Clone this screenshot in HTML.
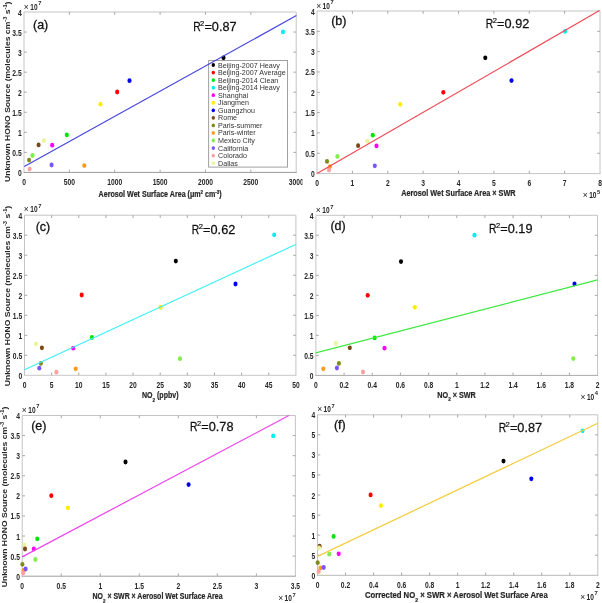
<!DOCTYPE html><html><head><meta charset="utf-8"><style>html,body{margin:0;padding:0;background:#fff;width:602px;height:603px;overflow:hidden}svg{display:block;filter:blur(0.35px)}text{font-family:"Liberation Sans", sans-serif}</style></head><body>
<svg width="602" height="603" viewBox="0 0 602 603">
<rect width="602" height="603" fill="#fff"/>
<defs><clipPath id="clipA"><rect x="0" y="0" width="302.5" height="603"/></clipPath><clipPath id="clipF"><rect x="311" y="0" width="291" height="603"/></clipPath></defs>
<path fill="none" stroke="#c4c4c4" stroke-width="1" d="M24 172.4V12H296.2V172.4"/>
<path fill="none" stroke="#9a9a9a" stroke-width="1" d="M23.5 172.4H296.7"/>
<g fill="none" stroke="#a8a8a8" stroke-width="1">
<path d="M69.37 172.4v-2.8M69.37 12v2.8M114.73 172.4v-2.8M114.73 12v2.8M160.1 172.4v-2.8M160.1 12v2.8M205.47 172.4v-2.8M205.47 12v2.8M250.83 172.4v-2.8M250.83 12v2.8M24 152.35h2.8M296.2 152.35h-2.8M24 132.3h2.8M296.2 132.3h-2.8M24 112.25h2.8M296.2 112.25h-2.8M24 92.2h2.8M296.2 92.2h-2.8M24 72.15h2.8M296.2 72.15h-2.8M24 52.1h2.8M296.2 52.1h-2.8M24 32.05h2.8M296.2 32.05h-2.8"/>
</g>
<g font-size="8.2" font-weight="bold" fill="#262626" text-anchor="middle" clip-path="url(#clipA)">
<text transform="translate(24 184.8) scale(0.82 1)">0</text>
<text transform="translate(69.37 184.8) scale(0.82 1)">500</text>
<text transform="translate(114.73 184.8) scale(0.82 1)">1000</text>
<text transform="translate(160.1 184.8) scale(0.82 1)">1500</text>
<text transform="translate(205.47 184.8) scale(0.82 1)">2000</text>
<text transform="translate(250.83 184.8) scale(0.82 1)">2500</text>
<text transform="translate(296.2 184.8) scale(0.82 1)">3000</text>
</g>
<g font-size="8.2" font-weight="bold" fill="#262626" text-anchor="end">
<text transform="translate(21.7 175.9) scale(0.82 1)">0</text>
<text transform="translate(21.7 155.85) scale(0.82 1)">0.5</text>
<text transform="translate(21.7 135.8) scale(0.82 1)">1</text>
<text transform="translate(21.7 115.75) scale(0.82 1)">1.5</text>
<text transform="translate(21.7 95.7) scale(0.82 1)">2</text>
<text transform="translate(21.7 75.65) scale(0.82 1)">2.5</text>
<text transform="translate(21.7 55.6) scale(0.82 1)">3</text>
<text transform="translate(21.7 35.55) scale(0.82 1)">3.5</text>
<text transform="translate(21.7 15.5) scale(0.82 1)">4</text>
</g>
<rect x="208.6" y="60.5" width="78.9" height="106.6" fill="#fff" stroke="#a0a0a0" stroke-width="1"/>
<g font-size="7.15" fill="#333">
<ellipse cx="213.3" cy="65" rx="1.7" ry="1.9" fill="#000000"/>
<text x="218" y="67.5">Beijing-2007 Heavy</text>
<ellipse cx="213.3" cy="72.55" rx="1.7" ry="1.9" fill="#ff0000"/>
<text x="218" y="75.05">Beijing-2007 Average</text>
<ellipse cx="213.3" cy="80.1" rx="1.7" ry="1.9" fill="#00e600"/>
<text x="218" y="82.6">Beijing-2014 Clean</text>
<ellipse cx="213.3" cy="87.65" rx="1.7" ry="1.9" fill="#00f0f0"/>
<text x="218" y="90.15">Beijing-2014 Heavy</text>
<ellipse cx="213.3" cy="95.2" rx="1.7" ry="1.9" fill="#ff00ff"/>
<text x="218" y="97.7">Shanghai</text>
<ellipse cx="213.3" cy="102.75" rx="1.7" ry="1.9" fill="#ffee00"/>
<text x="218" y="105.25">Jiangmen</text>
<ellipse cx="213.3" cy="110.3" rx="1.7" ry="1.9" fill="#0000ee"/>
<text x="218" y="112.8">Guangzhou</text>
<ellipse cx="213.3" cy="117.85" rx="1.7" ry="1.9" fill="#7a4a14"/>
<text x="218" y="120.35">Rome</text>
<ellipse cx="213.3" cy="125.4" rx="1.7" ry="1.9" fill="#7f8c1a"/>
<text x="218" y="127.9">Paris-summer</text>
<ellipse cx="213.3" cy="132.95" rx="1.7" ry="1.9" fill="#ff9a1a"/>
<text x="218" y="135.45">Paris-winter</text>
<ellipse cx="213.3" cy="140.5" rx="1.7" ry="1.9" fill="#7ff04a"/>
<text x="218" y="143">Mexico City</text>
<ellipse cx="213.3" cy="148.05" rx="1.7" ry="1.9" fill="#7a55ff"/>
<text x="218" y="150.55">California</text>
<ellipse cx="213.3" cy="155.6" rx="1.7" ry="1.9" fill="#ffa0a0"/>
<text x="218" y="158.1">Colorado</text>
<ellipse cx="213.3" cy="163.15" rx="1.7" ry="1.9" fill="#eaf59a"/>
<text x="218" y="165.65">Dallas</text>
</g>
<ellipse cx="223.5" cy="57.8" rx="2.05" ry="2.4" fill="#000000"/>
<ellipse cx="117.2" cy="92" rx="2.05" ry="2.4" fill="#ff0000"/>
<ellipse cx="66.8" cy="134.9" rx="2.05" ry="2.4" fill="#00e600"/>
<ellipse cx="283" cy="31.9" rx="2.05" ry="2.4" fill="#00f0f0"/>
<ellipse cx="52.2" cy="145.2" rx="2.05" ry="2.4" fill="#ff00ff"/>
<ellipse cx="100.4" cy="104.2" rx="2.05" ry="2.4" fill="#ffee00"/>
<ellipse cx="129.5" cy="80.7" rx="2.05" ry="2.4" fill="#0000ee"/>
<ellipse cx="38.6" cy="144.9" rx="2.05" ry="2.4" fill="#7a4a14"/>
<ellipse cx="29.1" cy="160.1" rx="2.05" ry="2.4" fill="#7f8c1a"/>
<ellipse cx="84.3" cy="165.6" rx="2.05" ry="2.4" fill="#ff9a1a"/>
<ellipse cx="32.5" cy="155.5" rx="2.05" ry="2.4" fill="#7ff04a"/>
<ellipse cx="51.6" cy="165" rx="2.05" ry="2.4" fill="#7a55ff"/>
<ellipse cx="29.6" cy="169.1" rx="2.05" ry="2.4" fill="#ffa0a0"/>
<ellipse cx="43.9" cy="140.7" rx="2.05" ry="2.4" fill="#eaf59a"/>
<line x1="24.3" y1="166.4" x2="296.4" y2="15.6" stroke="#4545e0" stroke-width="1.2"/>
<g fill="#262626"><text x="23.85" y="9.5" font-size="8.5">×</text><text transform="translate(30.3 9.5) scale(0.8 1)" font-size="8.2" font-weight="bold">10</text><text x="38.2" y="5.1" font-size="5.8" font-weight="bold">7</text></g>
<g transform="translate(193 31.3)" fill="#111" stroke="#111" stroke-width="0.25"><text transform="scale(0.86 1)" x="0.2" font-size="12">R</text><text x="7.1" y="-5.0" font-size="7.6" stroke-width="0.2">2</text><text transform="translate(11.4 0) scale(1.06 1)" font-size="12">=0.87</text></g>
<text x="33" y="28.8" font-size="12.5" fill="#111" stroke="#111" stroke-width="0.3">(a)</text>
<path fill="none" stroke="#c4c4c4" stroke-width="1" d="M317 173.6V11H600V173.6"/>
<path fill="none" stroke="#c4c4c4" stroke-width="1" d="M316.5 173.6H600.5"/>
<g fill="none" stroke="#a8a8a8" stroke-width="1">
<path d="M352.38 173.6v-2.8M352.38 11v2.8M387.75 173.6v-2.8M387.75 11v2.8M423.12 173.6v-2.8M423.12 11v2.8M458.5 173.6v-2.8M458.5 11v2.8M493.88 173.6v-2.8M493.88 11v2.8M529.25 173.6v-2.8M529.25 11v2.8M564.62 173.6v-2.8M564.62 11v2.8M317 153.28h2.8M600 153.28h-2.8M317 132.95h2.8M600 132.95h-2.8M317 112.62h2.8M600 112.62h-2.8M317 92.3h2.8M600 92.3h-2.8M317 71.97h2.8M600 71.97h-2.8M317 51.65h2.8M600 51.65h-2.8M317 31.32h2.8M600 31.32h-2.8"/>
</g>
<g font-size="8.2" font-weight="bold" fill="#262626" text-anchor="middle">
<text transform="translate(317 186) scale(0.82 1)">0</text>
<text transform="translate(352.38 186) scale(0.82 1)">1</text>
<text transform="translate(387.75 186) scale(0.82 1)">2</text>
<text transform="translate(423.12 186) scale(0.82 1)">3</text>
<text transform="translate(458.5 186) scale(0.82 1)">4</text>
<text transform="translate(493.88 186) scale(0.82 1)">5</text>
<text transform="translate(529.25 186) scale(0.82 1)">6</text>
<text transform="translate(564.62 186) scale(0.82 1)">7</text>
<text transform="translate(600 186) scale(0.82 1)">8</text>
</g>
<g font-size="8.2" font-weight="bold" fill="#262626" text-anchor="end">
<text transform="translate(314.7 177.1) scale(0.82 1)">0</text>
<text transform="translate(314.7 156.78) scale(0.82 1)">0.5</text>
<text transform="translate(314.7 136.45) scale(0.82 1)">1</text>
<text transform="translate(314.7 116.12) scale(0.82 1)">1.5</text>
<text transform="translate(314.7 95.8) scale(0.82 1)">2</text>
<text transform="translate(314.7 75.47) scale(0.82 1)">2.5</text>
<text transform="translate(314.7 55.15) scale(0.82 1)">3</text>
<text transform="translate(314.7 34.82) scale(0.82 1)">3.5</text>
<text transform="translate(314.7 14.5) scale(0.82 1)">4</text>
</g>
<ellipse cx="485.3" cy="57.8" rx="2.05" ry="2.4" fill="#000000"/>
<ellipse cx="443.3" cy="92.3" rx="2.05" ry="2.4" fill="#ff0000"/>
<ellipse cx="372.8" cy="135.2" rx="2.05" ry="2.4" fill="#00e600"/>
<ellipse cx="565.1" cy="31.4" rx="2.05" ry="2.4" fill="#00f0f0"/>
<ellipse cx="376.5" cy="145.9" rx="2.05" ry="2.4" fill="#ff00ff"/>
<ellipse cx="400.2" cy="104.3" rx="2.05" ry="2.4" fill="#ffee00"/>
<ellipse cx="511.5" cy="80.6" rx="2.05" ry="2.4" fill="#0000ee"/>
<ellipse cx="358.1" cy="145.7" rx="2.05" ry="2.4" fill="#7a4a14"/>
<ellipse cx="327" cy="161.4" rx="2.05" ry="2.4" fill="#7f8c1a"/>
<ellipse cx="330" cy="166.6" rx="2.05" ry="2.4" fill="#ff9a1a"/>
<ellipse cx="337.4" cy="156.4" rx="2.05" ry="2.4" fill="#7ff04a"/>
<ellipse cx="374.8" cy="165.8" rx="2.05" ry="2.4" fill="#7a55ff"/>
<ellipse cx="329" cy="170" rx="2.05" ry="2.4" fill="#ffa0a0"/>
<ellipse cx="367.3" cy="141.2" rx="2.05" ry="2.4" fill="#eaf59a"/>
<line x1="317" y1="173.6" x2="599.5" y2="10.6" stroke="#f04a55" stroke-width="1.2"/>
<g fill="#262626"><text x="316.15" y="8.5" font-size="8.5">×</text><text transform="translate(322.6 8.5) scale(0.8 1)" font-size="8.2" font-weight="bold">10</text><text x="330.5" y="4.1" font-size="5.8" font-weight="bold">7</text></g>
<g transform="translate(485.7 28.1)" fill="#111" stroke="#111" stroke-width="0.25"><text transform="scale(0.86 1)" x="0.2" font-size="12">R</text><text x="7.1" y="-5.0" font-size="7.6" stroke-width="0.2">2</text><text transform="translate(11.4 0) scale(1.06 1)" font-size="12">=0.92</text></g>
<text x="331.2" y="25.2" font-size="12.5" fill="#111" stroke="#111" stroke-width="0.3">(b)</text>
<path fill="none" stroke="#c4c4c4" stroke-width="1" d="M24.5 375.3V215.2H295.9V375.3"/>
<path fill="none" stroke="#c8c8c8" stroke-width="1" d="M24 375.3H296.4"/>
<g fill="none" stroke="#a8a8a8" stroke-width="1">
<path d="M51.64 375.3v-2.8M51.64 215.2v2.8M78.78 375.3v-2.8M78.78 215.2v2.8M105.92 375.3v-2.8M105.92 215.2v2.8M133.06 375.3v-2.8M133.06 215.2v2.8M160.2 375.3v-2.8M160.2 215.2v2.8M187.34 375.3v-2.8M187.34 215.2v2.8M214.48 375.3v-2.8M214.48 215.2v2.8M241.62 375.3v-2.8M241.62 215.2v2.8M268.76 375.3v-2.8M268.76 215.2v2.8M24.5 355.29h2.8M295.9 355.29h-2.8M24.5 335.27h2.8M295.9 335.27h-2.8M24.5 315.26h2.8M295.9 315.26h-2.8M24.5 295.25h2.8M295.9 295.25h-2.8M24.5 275.24h2.8M295.9 275.24h-2.8M24.5 255.22h2.8M295.9 255.22h-2.8M24.5 235.21h2.8M295.9 235.21h-2.8"/>
</g>
<g font-size="8.2" font-weight="bold" fill="#262626" text-anchor="middle">
<text transform="translate(24.5 387.7) scale(0.82 1)">0</text>
<text transform="translate(51.64 387.7) scale(0.82 1)">5</text>
<text transform="translate(78.78 387.7) scale(0.82 1)">10</text>
<text transform="translate(105.92 387.7) scale(0.82 1)">15</text>
<text transform="translate(133.06 387.7) scale(0.82 1)">20</text>
<text transform="translate(160.2 387.7) scale(0.82 1)">25</text>
<text transform="translate(187.34 387.7) scale(0.82 1)">30</text>
<text transform="translate(214.48 387.7) scale(0.82 1)">35</text>
<text transform="translate(241.62 387.7) scale(0.82 1)">40</text>
<text transform="translate(268.76 387.7) scale(0.82 1)">45</text>
<text transform="translate(295.9 387.7) scale(0.82 1)">50</text>
</g>
<g font-size="8.2" font-weight="bold" fill="#262626" text-anchor="end">
<text transform="translate(22.2 378.8) scale(0.82 1)">0</text>
<text transform="translate(22.2 358.79) scale(0.82 1)">0.5</text>
<text transform="translate(22.2 338.77) scale(0.82 1)">1</text>
<text transform="translate(22.2 318.76) scale(0.82 1)">1.5</text>
<text transform="translate(22.2 298.75) scale(0.82 1)">2</text>
<text transform="translate(22.2 278.74) scale(0.82 1)">2.5</text>
<text transform="translate(22.2 258.73) scale(0.82 1)">3</text>
<text transform="translate(22.2 238.71) scale(0.82 1)">3.5</text>
<text transform="translate(22.2 218.7) scale(0.82 1)">4</text>
</g>
<ellipse cx="175.8" cy="261.1" rx="2.05" ry="2.4" fill="#000000"/>
<ellipse cx="81.7" cy="295" rx="2.05" ry="2.4" fill="#ff0000"/>
<ellipse cx="91.9" cy="337.5" rx="2.05" ry="2.4" fill="#00e600"/>
<ellipse cx="274.2" cy="234.8" rx="2.05" ry="2.4" fill="#00f0f0"/>
<ellipse cx="73.2" cy="348.2" rx="2.05" ry="2.4" fill="#ff00ff"/>
<ellipse cx="160.5" cy="307.2" rx="2.05" ry="2.4" fill="#ffee00"/>
<ellipse cx="235.5" cy="284" rx="2.05" ry="2.4" fill="#0000ee"/>
<ellipse cx="41.9" cy="347.8" rx="2.05" ry="2.4" fill="#7a4a14"/>
<ellipse cx="40.9" cy="363.4" rx="2.05" ry="2.4" fill="#7f8c1a"/>
<ellipse cx="75.7" cy="368.8" rx="2.05" ry="2.4" fill="#ff9a1a"/>
<ellipse cx="180" cy="358.7" rx="2.05" ry="2.4" fill="#7ff04a"/>
<ellipse cx="39.3" cy="368.2" rx="2.05" ry="2.4" fill="#7a55ff"/>
<ellipse cx="56.4" cy="372.2" rx="2.05" ry="2.4" fill="#ffa0a0"/>
<ellipse cx="35.9" cy="343.9" rx="2.05" ry="2.4" fill="#eaf59a"/>
<line x1="24.5" y1="369.8" x2="296.3" y2="244.2" stroke="#3ff0f8" stroke-width="1.2"/>
<g fill="#262626"><text x="23.85" y="212.4" font-size="8.5">×</text><text transform="translate(30.3 212.4) scale(0.8 1)" font-size="8.2" font-weight="bold">10</text><text x="38.2" y="208" font-size="5.8" font-weight="bold">7</text></g>
<g transform="translate(191.7 233.5)" fill="#111" stroke="#111" stroke-width="0.25"><text transform="scale(0.86 1)" x="0.2" font-size="12">R</text><text x="7.1" y="-5.0" font-size="7.6" stroke-width="0.2">2</text><text transform="translate(11.4 0) scale(1.06 1)" font-size="12">=0.62</text></g>
<text x="35.7" y="231" font-size="12.5" fill="#111" stroke="#111" stroke-width="0.3">(c)</text>
<path fill="none" stroke="#c4c4c4" stroke-width="1" d="M315.9 375.4V215.3H597.6V375.4"/>
<path fill="none" stroke="#ababab" stroke-width="1" d="M315.4 375.4H598.1"/>
<g fill="none" stroke="#a8a8a8" stroke-width="1">
<path d="M344.07 375.4v-2.8M344.07 215.3v2.8M372.24 375.4v-2.8M372.24 215.3v2.8M400.41 375.4v-2.8M400.41 215.3v2.8M428.58 375.4v-2.8M428.58 215.3v2.8M456.75 375.4v-2.8M456.75 215.3v2.8M484.92 375.4v-2.8M484.92 215.3v2.8M513.09 375.4v-2.8M513.09 215.3v2.8M541.26 375.4v-2.8M541.26 215.3v2.8M569.43 375.4v-2.8M569.43 215.3v2.8M315.9 355.39h2.8M597.6 355.39h-2.8M315.9 335.38h2.8M597.6 335.38h-2.8M315.9 315.36h2.8M597.6 315.36h-2.8M315.9 295.35h2.8M597.6 295.35h-2.8M315.9 275.34h2.8M597.6 275.34h-2.8M315.9 255.32h2.8M597.6 255.32h-2.8M315.9 235.31h2.8M597.6 235.31h-2.8"/>
</g>
<g font-size="8.2" font-weight="bold" fill="#262626" text-anchor="middle">
<text transform="translate(315.9 387.8) scale(0.82 1)">0</text>
<text transform="translate(344.07 387.8) scale(0.82 1)">0.2</text>
<text transform="translate(372.24 387.8) scale(0.82 1)">0.4</text>
<text transform="translate(400.41 387.8) scale(0.82 1)">0.6</text>
<text transform="translate(428.58 387.8) scale(0.82 1)">0.8</text>
<text transform="translate(456.75 387.8) scale(0.82 1)">1</text>
<text transform="translate(484.92 387.8) scale(0.82 1)">1.2</text>
<text transform="translate(513.09 387.8) scale(0.82 1)">1.4</text>
<text transform="translate(541.26 387.8) scale(0.82 1)">1.6</text>
<text transform="translate(569.43 387.8) scale(0.82 1)">1.8</text>
<text transform="translate(597.6 387.8) scale(0.82 1)">2</text>
</g>
<g font-size="8.2" font-weight="bold" fill="#262626" text-anchor="end">
<text transform="translate(313.6 378.9) scale(0.82 1)">0</text>
<text transform="translate(313.6 358.89) scale(0.82 1)">0.5</text>
<text transform="translate(313.6 338.88) scale(0.82 1)">1</text>
<text transform="translate(313.6 318.86) scale(0.82 1)">1.5</text>
<text transform="translate(313.6 298.85) scale(0.82 1)">2</text>
<text transform="translate(313.6 278.84) scale(0.82 1)">2.5</text>
<text transform="translate(313.6 258.82) scale(0.82 1)">3</text>
<text transform="translate(313.6 238.81) scale(0.82 1)">3.5</text>
<text transform="translate(313.6 218.8) scale(0.82 1)">4</text>
</g>
<ellipse cx="401" cy="261.6" rx="2.05" ry="2.4" fill="#000000"/>
<ellipse cx="367.7" cy="295.3" rx="2.05" ry="2.4" fill="#ff0000"/>
<ellipse cx="374.7" cy="337.9" rx="2.05" ry="2.4" fill="#00e600"/>
<ellipse cx="474.5" cy="235.2" rx="2.05" ry="2.4" fill="#00f0f0"/>
<ellipse cx="384.5" cy="348.2" rx="2.05" ry="2.4" fill="#ff00ff"/>
<ellipse cx="414.8" cy="307.3" rx="2.05" ry="2.4" fill="#ffee00"/>
<ellipse cx="574.5" cy="283.9" rx="2.05" ry="2.4" fill="#0000ee"/>
<ellipse cx="349.8" cy="347.8" rx="2.05" ry="2.4" fill="#7a4a14"/>
<ellipse cx="338.9" cy="363.4" rx="2.05" ry="2.4" fill="#7f8c1a"/>
<ellipse cx="323.3" cy="368.8" rx="2.05" ry="2.4" fill="#ff9a1a"/>
<ellipse cx="573.3" cy="358.6" rx="2.05" ry="2.4" fill="#7ff04a"/>
<ellipse cx="336.9" cy="368" rx="2.05" ry="2.4" fill="#7a55ff"/>
<ellipse cx="363" cy="372" rx="2.05" ry="2.4" fill="#ffa0a0"/>
<ellipse cx="335.9" cy="343.5" rx="2.05" ry="2.4" fill="#eaf59a"/>
<line x1="315.8" y1="352.8" x2="597.6" y2="279.9" stroke="#40e840" stroke-width="1.2"/>
<g fill="#262626"><text x="315.85" y="212.9" font-size="8.5">×</text><text transform="translate(322.3 212.9) scale(0.8 1)" font-size="8.2" font-weight="bold">10</text><text x="330.2" y="208.5" font-size="5.8" font-weight="bold">7</text></g>
<g transform="translate(488.9 233)" fill="#111" stroke="#111" stroke-width="0.25"><text transform="scale(0.86 1)" x="0.2" font-size="12">R</text><text x="7.1" y="-5.0" font-size="7.6" stroke-width="0.2">2</text><text transform="translate(11.4 0) scale(1.06 1)" font-size="12">=0.19</text></g>
<text x="330.4" y="230.3" font-size="12.5" fill="#111" stroke="#111" stroke-width="0.3">(d)</text>
<path fill="none" stroke="#c4c4c4" stroke-width="1" d="M22.2 576.2V415.5H295.4V576.2"/>
<path fill="none" stroke="#9e9e9e" stroke-width="1" d="M21.7 576.2H295.9"/>
<g fill="none" stroke="#a8a8a8" stroke-width="1">
<path d="M61.23 576.2v-2.8M61.23 415.5v2.8M100.26 576.2v-2.8M100.26 415.5v2.8M139.29 576.2v-2.8M139.29 415.5v2.8M178.31 576.2v-2.8M178.31 415.5v2.8M217.34 576.2v-2.8M217.34 415.5v2.8M256.37 576.2v-2.8M256.37 415.5v2.8M22.2 556.11h2.8M295.4 556.11h-2.8M22.2 536.03h2.8M295.4 536.03h-2.8M22.2 515.94h2.8M295.4 515.94h-2.8M22.2 495.85h2.8M295.4 495.85h-2.8M22.2 475.76h2.8M295.4 475.76h-2.8M22.2 455.68h2.8M295.4 455.68h-2.8M22.2 435.59h2.8M295.4 435.59h-2.8"/>
</g>
<g font-size="8.2" font-weight="bold" fill="#262626" text-anchor="middle">
<text transform="translate(22.2 588.6) scale(0.82 1)">0</text>
<text transform="translate(61.23 588.6) scale(0.82 1)">0.5</text>
<text transform="translate(100.26 588.6) scale(0.82 1)">1</text>
<text transform="translate(139.29 588.6) scale(0.82 1)">1.5</text>
<text transform="translate(178.31 588.6) scale(0.82 1)">2</text>
<text transform="translate(217.34 588.6) scale(0.82 1)">2.5</text>
<text transform="translate(256.37 588.6) scale(0.82 1)">3</text>
<text transform="translate(295.4 588.6) scale(0.82 1)">3.5</text>
</g>
<g font-size="8.2" font-weight="bold" fill="#262626" text-anchor="end">
<text transform="translate(19.9 579.7) scale(0.82 1)">0</text>
<text transform="translate(19.9 559.61) scale(0.82 1)">0.5</text>
<text transform="translate(19.9 539.53) scale(0.82 1)">1</text>
<text transform="translate(19.9 519.44) scale(0.82 1)">1.5</text>
<text transform="translate(19.9 499.35) scale(0.82 1)">2</text>
<text transform="translate(19.9 479.26) scale(0.82 1)">2.5</text>
<text transform="translate(19.9 459.18) scale(0.82 1)">3</text>
<text transform="translate(19.9 439.09) scale(0.82 1)">3.5</text>
<text transform="translate(19.9 419) scale(0.82 1)">4</text>
</g>
<ellipse cx="125.5" cy="462" rx="2.05" ry="2.4" fill="#000000"/>
<ellipse cx="51.3" cy="495.7" rx="2.05" ry="2.4" fill="#ff0000"/>
<ellipse cx="37.3" cy="538.8" rx="2.05" ry="2.4" fill="#00e600"/>
<ellipse cx="273.2" cy="435.9" rx="2.05" ry="2.4" fill="#00f0f0"/>
<ellipse cx="33.8" cy="549" rx="2.05" ry="2.4" fill="#ff00ff"/>
<ellipse cx="67.9" cy="507.8" rx="2.05" ry="2.4" fill="#ffee00"/>
<ellipse cx="188.6" cy="484.6" rx="2.05" ry="2.4" fill="#0000ee"/>
<ellipse cx="24.3" cy="544.8" rx="2.05" ry="2.4" fill="#eaf59a"/>
<ellipse cx="22.4" cy="564.3" rx="2.05" ry="2.4" fill="#7f8c1a"/>
<ellipse cx="23.6" cy="570.5" rx="2.05" ry="2.4" fill="#ff9a1a"/>
<ellipse cx="35.4" cy="559.5" rx="2.05" ry="2.4" fill="#7ff04a"/>
<ellipse cx="25.6" cy="569" rx="2.05" ry="2.4" fill="#7a55ff"/>
<ellipse cx="23.2" cy="573" rx="2.05" ry="2.4" fill="#ffa0a0"/>
<ellipse cx="25" cy="549" rx="2.05" ry="2.4" fill="#7a4a14"/>
<line x1="22.2" y1="556.9" x2="288.9" y2="415.5" stroke="#ee44ee" stroke-width="1.2"/>
<g fill="#262626"><text x="21.85" y="412.8" font-size="8.5">×</text><text transform="translate(28.3 412.8) scale(0.8 1)" font-size="8.2" font-weight="bold">10</text><text x="36.2" y="408.4" font-size="5.8" font-weight="bold">7</text></g>
<g transform="translate(189.9 431)" fill="#111" stroke="#111" stroke-width="0.25"><text transform="scale(0.86 1)" x="0.2" font-size="12">R</text><text x="7.1" y="-5.0" font-size="7.6" stroke-width="0.2">2</text><text transform="translate(11.4 0) scale(1.06 1)" font-size="12">=0.78</text></g>
<text x="31.2" y="430.2" font-size="12.5" fill="#111" stroke="#111" stroke-width="0.3">(e)</text>
<path fill="none" stroke="#c4c4c4" stroke-width="1" d="M317.5 575.3V414.8H597.8V575.3"/>
<path fill="none" stroke="#b8b8b8" stroke-width="1" d="M317 575.3H598.3"/>
<g fill="none" stroke="#a8a8a8" stroke-width="1">
<path d="M345.53 575.3v-2.8M345.53 414.8v2.8M373.56 575.3v-2.8M373.56 414.8v2.8M401.59 575.3v-2.8M401.59 414.8v2.8M429.62 575.3v-2.8M429.62 414.8v2.8M457.65 575.3v-2.8M457.65 414.8v2.8M485.68 575.3v-2.8M485.68 414.8v2.8M513.71 575.3v-2.8M513.71 414.8v2.8M541.74 575.3v-2.8M541.74 414.8v2.8M569.77 575.3v-2.8M569.77 414.8v2.8M317.5 555.24h2.8M597.8 555.24h-2.8M317.5 535.17h2.8M597.8 535.17h-2.8M317.5 515.11h2.8M597.8 515.11h-2.8M317.5 495.05h2.8M597.8 495.05h-2.8M317.5 474.99h2.8M597.8 474.99h-2.8M317.5 454.93h2.8M597.8 454.93h-2.8M317.5 434.86h2.8M597.8 434.86h-2.8"/>
</g>
<g font-size="8.2" font-weight="bold" fill="#262626" text-anchor="middle">
<text transform="translate(317.5 587.7) scale(0.82 1)">0</text>
<text transform="translate(345.53 587.7) scale(0.82 1)">0.2</text>
<text transform="translate(373.56 587.7) scale(0.82 1)">0.4</text>
<text transform="translate(401.59 587.7) scale(0.82 1)">0.6</text>
<text transform="translate(429.62 587.7) scale(0.82 1)">0.8</text>
<text transform="translate(457.65 587.7) scale(0.82 1)">1</text>
<text transform="translate(485.68 587.7) scale(0.82 1)">1.2</text>
<text transform="translate(513.71 587.7) scale(0.82 1)">1.4</text>
<text transform="translate(541.74 587.7) scale(0.82 1)">1.6</text>
<text transform="translate(569.77 587.7) scale(0.82 1)">1.8</text>
<text transform="translate(597.8 587.7) scale(0.82 1)">2</text>
</g>
<g font-size="8.2" font-weight="bold" fill="#262626" text-anchor="end" clip-path="url(#clipF)">
<text transform="translate(315.2 578.8) scale(0.82 1)">0</text>
<text transform="translate(315.2 558.74) scale(0.82 1)">0.5</text>
<text transform="translate(315.2 538.67) scale(0.82 1)">1</text>
<text transform="translate(315.2 518.61) scale(0.82 1)">1.5</text>
<text transform="translate(315.2 498.55) scale(0.82 1)">2</text>
<text transform="translate(315.2 478.49) scale(0.82 1)">2.5</text>
<text transform="translate(315.2 458.43) scale(0.82 1)">3</text>
<text transform="translate(315.2 438.36) scale(0.82 1)">3.5</text>
<text transform="translate(315.2 418.3) scale(0.82 1)">4</text>
</g>
<ellipse cx="503.5" cy="461.1" rx="2.05" ry="2.4" fill="#000000"/>
<ellipse cx="370.6" cy="494.9" rx="2.05" ry="2.4" fill="#ff0000"/>
<ellipse cx="333.6" cy="536.4" rx="2.05" ry="2.4" fill="#00e600"/>
<ellipse cx="582.6" cy="430.8" rx="2.05" ry="2.4" fill="#00f0f0"/>
<ellipse cx="338.7" cy="553.8" rx="2.05" ry="2.4" fill="#ff00ff"/>
<ellipse cx="380.9" cy="505.6" rx="2.05" ry="2.4" fill="#ffee00"/>
<ellipse cx="531.3" cy="478.8" rx="2.05" ry="2.4" fill="#0000ee"/>
<ellipse cx="319.6" cy="546.2" rx="2.05" ry="2.4" fill="#7a4a14"/>
<ellipse cx="317.7" cy="562.7" rx="2.05" ry="2.4" fill="#7f8c1a"/>
<ellipse cx="320.4" cy="567.9" rx="2.05" ry="2.4" fill="#ff9a1a"/>
<ellipse cx="329.3" cy="554.2" rx="2.05" ry="2.4" fill="#7ff04a"/>
<ellipse cx="323.7" cy="567.5" rx="2.05" ry="2.4" fill="#7a55ff"/>
<ellipse cx="318.7" cy="571.5" rx="2.05" ry="2.4" fill="#ffa0a0"/>
<ellipse cx="319.1" cy="547.9" rx="2.05" ry="2.4" fill="#eaf59a"/>
<line x1="317.5" y1="556.4" x2="597.8" y2="423.2" stroke="#f4cc3c" stroke-width="1.2"/>
<g fill="#262626"><text x="317.15" y="412.4" font-size="8.5">×</text><text transform="translate(323.6 412.4) scale(0.8 1)" font-size="8.2" font-weight="bold">10</text><text x="331.5" y="408" font-size="5.8" font-weight="bold">7</text></g>
<g transform="translate(498.5 432)" fill="#111" stroke="#111" stroke-width="0.25"><text transform="scale(0.86 1)" x="0.2" font-size="12">R</text><text x="7.1" y="-5.0" font-size="7.6" stroke-width="0.2">2</text><text transform="translate(11.4 0) scale(1.06 1)" font-size="12">=0.87</text></g>
<text x="333.9" y="429.4" font-size="12.5" fill="#111" stroke="#111" stroke-width="0.3">(f)</text>
<text transform="translate(9.6 182) rotate(-90)" font-size="7.5" font-weight="bold" fill="#262626" textLength="180.5" lengthAdjust="spacingAndGlyphs">Unknown HONO Source (molecules cm<tspan font-size="5" dy="-3">-3</tspan><tspan dy="3"> s</tspan><tspan font-size="5" dy="-3">-1</tspan><tspan dy="3">)</tspan></text>
<text transform="translate(9.6 386.3) rotate(-90)" font-size="7.5" font-weight="bold" fill="#262626" textLength="180.5" lengthAdjust="spacingAndGlyphs">Unknown HONO Source (molecules cm<tspan font-size="5" dy="-3">-3</tspan><tspan dy="3"> s</tspan><tspan font-size="5" dy="-3">-1</tspan><tspan dy="3">)</tspan></text>
<text transform="translate(7 587.2) rotate(-90)" font-size="7.5" font-weight="bold" fill="#262626" textLength="180.5" lengthAdjust="spacingAndGlyphs">Unknown HONO Source (molecules cm<tspan font-size="5" dy="-3">-3</tspan><tspan dy="3"> s</tspan><tspan font-size="5" dy="-3">-1</tspan><tspan dy="3">)</tspan></text>
<text x="98.6" y="197.1" font-size="8.3" font-weight="bold" fill="#262626" stroke="#262626" stroke-width="0.2" textLength="123.1" lengthAdjust="spacingAndGlyphs">Aerosol Wet Surface Area (μm<tspan font-size="5.2" dy="-3">2</tspan><tspan dy="3"> cm</tspan><tspan font-size="5.2" dy="-3">-3</tspan><tspan dy="3">)</tspan></text>
<text x="401.2" y="195.9" font-size="8.3" font-weight="bold" fill="#262626" stroke="#262626" stroke-width="0.2" textLength="114.4" lengthAdjust="spacingAndGlyphs">Aerosol Wet Surface Area × SWR</text>
<text x="142" y="398.2" font-size="8.3" font-weight="bold" fill="#262626" stroke="#262626" stroke-width="0.2" textLength="36.5" lengthAdjust="spacingAndGlyphs">NO<tspan font-size="5.4" dy="3.8">2</tspan><tspan dy="-3.8"> (ppbv)</tspan></text>
<text x="437.3" y="397.6" font-size="8.3" font-weight="bold" fill="#262626" stroke="#262626" stroke-width="0.2" textLength="38.5" lengthAdjust="spacingAndGlyphs">NO<tspan font-size="5.4" dy="3.8">2</tspan><tspan dy="-3.8"> × SWR</tspan></text>
<text x="92.5" y="599" font-size="8.3" font-weight="bold" fill="#262626" stroke="#262626" stroke-width="0.2" textLength="130.1" lengthAdjust="spacingAndGlyphs">NO<tspan font-size="5.4" dy="3.8">2</tspan><tspan dy="-3.8"> × SWR × Aerosol Wet Surface Area</tspan></text>
<text x="365" y="598.4" font-size="8.3" font-weight="bold" fill="#262626" stroke="#262626" stroke-width="0.2" textLength="182.7" lengthAdjust="spacingAndGlyphs">Corrected NO<tspan font-size="5.4" dy="3.8">2</tspan><tspan dy="-3.8"> × SWR × Aerosol Wet Surface Area</tspan></text>
<g fill="#262626"><text x="582.75" y="198.2" font-size="8.5">×</text><text transform="translate(589.2 198.2) scale(0.8 1)" font-size="8.2" font-weight="bold">10</text><text x="597.1" y="193.8" font-size="5.8" font-weight="bold">5</text></g>
<g fill="#262626"><text x="580.45" y="399.6" font-size="8.5">×</text><text transform="translate(586.9 399.6) scale(0.8 1)" font-size="8.2" font-weight="bold">10</text><text x="594.8" y="395.2" font-size="5.8" font-weight="bold">4</text></g>
<g fill="#262626"><text x="278.15" y="601" font-size="8.5">×</text><text transform="translate(284.6 601) scale(0.8 1)" font-size="8.2" font-weight="bold">10</text><text x="292.5" y="596.6" font-size="5.8" font-weight="bold">7</text></g>
<g fill="#262626"><text x="580.15" y="599.8" font-size="8.5">×</text><text transform="translate(586.6 599.8) scale(0.8 1)" font-size="8.2" font-weight="bold">10</text><text x="594.5" y="595.4" font-size="5.8" font-weight="bold">7</text></g>
</svg></body></html>
